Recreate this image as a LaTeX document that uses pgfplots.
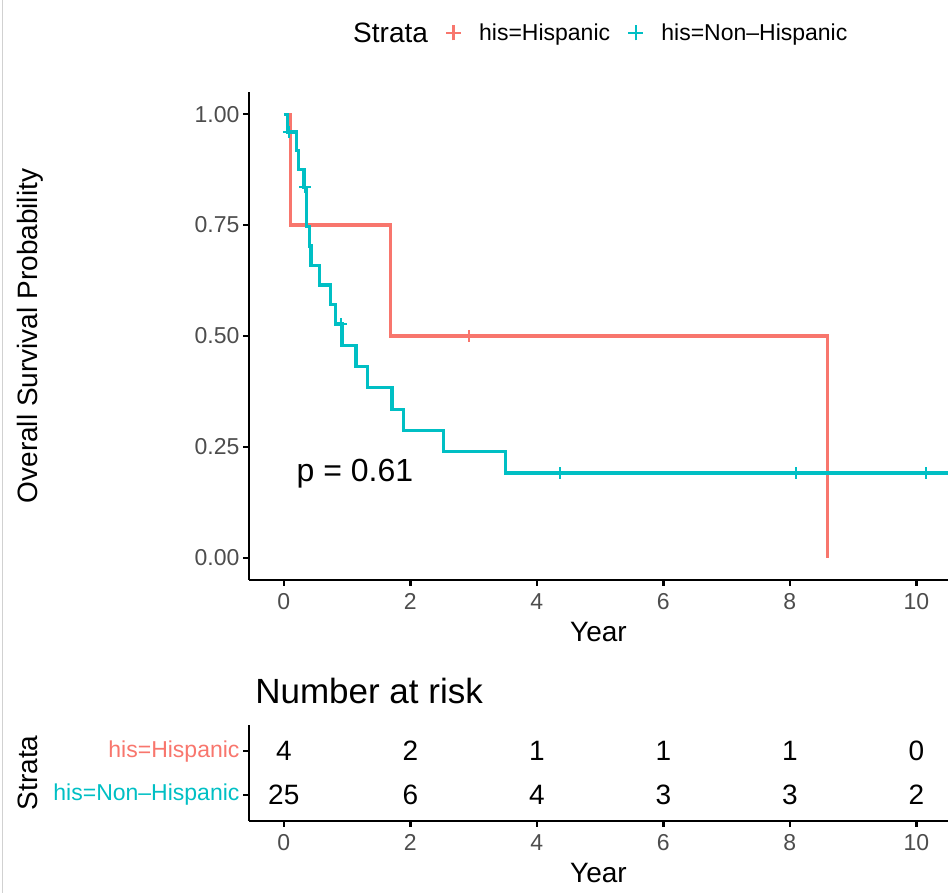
\documentclass[border=0pt]{standalone}
\usepackage{fontspec}
\setmainfont{Liberation Sans}
\usepackage{pgfplots}
\pgfplotsset{compat=1.18}

\definecolor{hisp}{HTML}{F8766D}
\definecolor{nonhisp}{HTML}{00BFC4}
\definecolor{tickgrey}{HTML}{4D4D4D}
\newcommand{\fs}[1]{\fontsize{#1}{#1}\selectfont}

% shared look of both panels (ggplot classic theme)
\pgfplotsset{
  kmaxis/.style={
    scale only axis, anchor=south west,
    xmin=-0.55, xmax=10.5,
    axis x line*=bottom, axis y line*=left,
    axis line style={black, line width=2.5pt},
    tick align=outside, major tick length=6pt,
    tick style={black, line width=2.5pt},
    xtick={0,2,...,10},
    ticklabel style={font=\fs{23}, text=tickgrey},
    xticklabel style={yshift=-4pt},
    /pgf/number format/assume math mode=true,
    label style={font=\fs{28}},
  },
}

\begin{document}
\begin{tikzpicture}
\path[use as bounding box] (0,0) rectangle (948pt,893pt);
\draw[black!18, line width=1pt] (2pt,0) -- (2pt,893pt);

% survival curves
\begin{axis}[kmaxis,
  at={(249pt,313pt)}, width=699pt, height=488pt,
  ymin=-0.05, ymax=1.05,
  ytick={0,0.25,0.5,0.75,1},
  yticklabel style={/pgf/number format/.cd, fixed, fixed zerofill, precision=2},
  xlabel={Year}, ylabel={Overall Survival Probability},
  xlabel style={at={(axis description cs:0.5,-0.1066)}, anchor=center},
  ylabel style={at={(axis description cs:-0.3133,0.5)}, anchor=center},
  legend style={at={(axis description cs:0.1245,1.1209)}, anchor=west,
    draw=none, fill=none, font=\fs{23}, inner sep=0pt,
    nodes={inner sep=0pt}, column sep=17pt},
  legend columns=-1,
  legend image code/.code={\draw[#1] (-7.5pt,0) -- (7.5pt,0) (0,-7.5pt) -- (0,7.5pt);},
]
\addlegendimage{empty legend}
\addlegendentry{\fs{28}Strata}
\addlegendimage{hisp, line width=2.2pt}
\addlegendentry{his=Hispanic}
\addlegendimage{nonhisp, line width=2.2pt}
\addlegendentry{his=Non–Hispanic}

\addplot[const plot, hisp, line width=3.2pt, forget plot] table {
x y
0 1
0.11 0.75
1.69 0.5
8.59 0
};
\addplot[const plot, nonhisp, line width=3.2pt, forget plot] table {
x y
0 1
0.06 0.96
0.20 0.918
0.23 0.876
0.32 0.835
0.36 0.747
0.41 0.703
0.43 0.659
0.57 0.615
0.74 0.571
0.82 0.527
0.92 0.479
1.14 0.431
1.32 0.383
1.71 0.335
1.89 0.287
2.53 0.239
3.51 0.191
10.5 0.191
};
% censoring marks
\addplot[only marks, mark=+, mark size=6pt, hisp, line width=2pt, forget plot] table {
x y
2.93 0.5
};
\addplot[only marks, mark=+, mark size=6pt, nonhisp, line width=2pt, forget plot] table {
x y
0.085 0.96
0.34 0.835
0.90 0.527
4.36 0.191
8.10 0.191
10.15 0.191
};
\node[font=\fs{32}, anchor=west, inner sep=0pt] at (axis cs:0.2,0.19) {p = 0.61};
\end{axis}

% risk table
\begin{axis}[kmaxis,
  at={(249pt,72pt)}, width=699pt, height=96pt,
  ymin=0.4, ymax=2.6,
  ytick={1,2},
  yticklabels={\textcolor{nonhisp}{his=Non–Hispanic},\textcolor{hisp}{his=Hispanic}},
  xlabel={Year}, ylabel={Strata},
  xlabel style={at={(axis description cs:0.5,-0.5417)}, anchor=center},
  ylabel style={at={(axis description cs:-0.316,0.5)}, anchor=center},
  title={Number at risk},
  title style={font=\fs{35}, at={(axis description cs:0.004,1.16)}, anchor=base west},
]
\addplot[only marks, mark=none, nodes near coords, point meta=explicit symbolic,
  nodes near coords style={anchor=center, font=\fs{28}, text=black}] table[meta=n] {
x y n
0 2 4
2 2 2
4 2 1
6 2 1
8 2 1
10 2 0
0 1 25
2 1 6
4 1 4
6 1 3
8 1 3
10 1 2
};
\end{axis}
\end{tikzpicture}
\end{document}
